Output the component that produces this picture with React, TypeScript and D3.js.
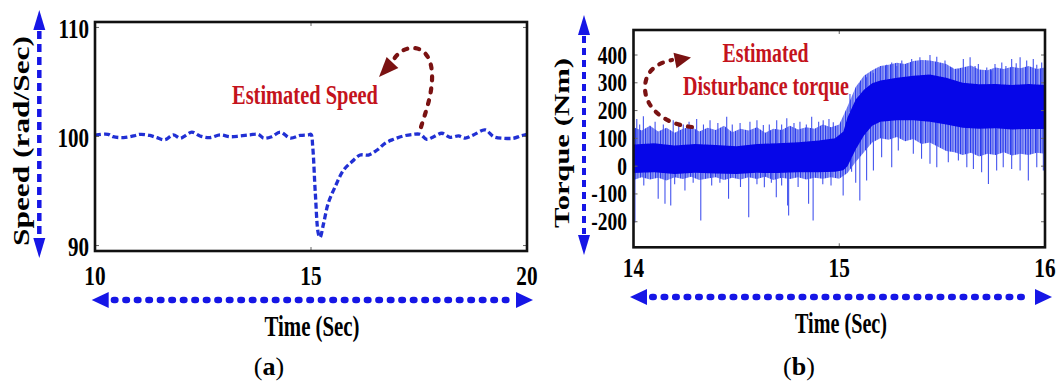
import React from 'react';
import * as d3 from 'd3';

// ---------- Panel (a): estimated speed ----------
const speedTime = [10.0, 10.04, 10.3, 10.42, 10.66, 10.89, 11.04, 11.27, 11.43, 11.62, 11.81, 11.97, 12.08, 12.24, 12.43, 12.66, 12.9, 13.13, 13.36, 13.59, 13.78, 13.9, 14.09, 14.29, 14.52, 14.75, 14.94, 15.0, 15.04, 15.1, 15.17, 15.21, 15.29, 15.4, 15.56, 15.75, 15.95, 16.14, 16.33, 16.53, 16.72, 16.91, 17.14, 17.37, 17.53, 17.68, 17.84, 18.03, 18.22, 18.42, 18.57, 18.76, 19.03, 19.23, 19.46, 19.69, 19.85, 20.0];
const speedValue = [100.1, 100.14, 100.2, 99.98, 99.9, 100.05, 100.2, 100.1, 99.9, 99.7, 100.15, 99.85, 100.05, 100.4, 100.05, 99.9, 100.15, 99.98, 100.05, 100.15, 100.2, 99.85, 99.98, 100.4, 99.85, 100.1, 100.15, 100.2, 99.05, 94.8, 91.1, 90.75, 92.0, 93.9, 95.4, 96.9, 97.7, 98.3, 98.3, 98.76, 99.4, 99.74, 100.05, 100.2, 100.2, 99.74, 99.98, 100.3, 99.93, 100.05, 99.85, 100.14, 100.6, 99.98, 99.84, 99.84, 100.05, 100.2];
const speedTicks = [110, 100, 90];
const speedTimeTicks = [10, 15, 20];

// ---------- Panel (b): estimated disturbance torque ----------
// dense core of the noisy signal
const torqueCoreTime = [14.0, 14.1, 14.2, 14.3, 14.4, 14.5, 14.6, 14.7, 14.8, 14.9, 14.98, 15.02, 15.04, 15.08, 15.12, 15.16, 15.2, 15.28, 15.36, 15.44, 15.52, 15.6, 15.68, 15.76, 15.84, 15.92, 16.0];
const torqueCoreHigh = [78, 82, 74, 80, 76, 72, 80, 82, 86, 92, 100, 125, 175, 240, 275, 298, 308, 318, 325, 330, 318, 300, 295, 296, 292, 296, 292];
const torqueCoreLow = [-25, -22, -28, -24, -26, -28, -24, -25, -22, -22, -20, -15, 0, 60, 110, 145, 160, 165, 165, 160, 150, 138, 135, 136, 132, 134, 134];
// lighter fringe of the oscillation around the core
const torqueFringeTime = [14.0, 14.04, 14.08, 14.12, 14.16, 14.2, 14.24, 14.28, 14.32, 14.36, 14.4, 14.44, 14.48, 14.52, 14.56, 14.6, 14.64, 14.68, 14.72, 14.76, 14.8, 14.84, 14.88, 14.92, 14.96, 15.0, 15.04, 15.08, 15.12, 15.16, 15.2, 15.24, 15.28, 15.32, 15.36, 15.4, 15.44, 15.48, 15.52, 15.56, 15.6, 15.64, 15.68, 15.72, 15.76, 15.8, 15.84, 15.88, 15.92, 15.96, 16.0];
const torqueFringeHigh = [140, 128, 145, 125, 138, 120, 135, 142, 125, 138, 130, 145, 122, 135, 128, 140, 120, 135, 130, 145, 132, 140, 135, 150, 140, 150, 215, 285, 325, 345, 360, 365, 372, 368, 378, 382, 380, 375, 368, 350, 355, 362, 348, 345, 355, 350, 358, 352, 360, 350, 355];
const torqueFringeLow = [-50, -40, -48, -42, -52, -40, -46, -38, -50, -44, -40, -50, -42, -48, -40, -46, -38, -50, -42, -46, -40, -48, -42, -45, -40, -45, -25, 15, 50, 85, 100, 95, 105, 90, 98, 80, 85, 70, 55, 50, 40, 48, 35, 45, 40, 50, 38, 45, 40, 48, 45];

const upperSpikeTime = [14.016, 14.03, 14.048, 14.08, 14.105, 14.145, 14.193, 14.22, 14.242, 14.27, 14.307, 14.34, 14.372, 14.41, 14.453, 14.48, 14.518, 14.566, 14.6, 14.631, 14.66, 14.696, 14.72, 14.745, 14.78, 14.809, 14.84, 14.866, 14.9, 14.922, 14.95, 14.971,
  15.052, 15.1, 15.133, 15.166, 15.198, 15.23, 15.255, 15.28, 15.304, 15.33, 15.352, 15.392, 15.42, 15.441, 15.474, 15.49, 15.514, 15.547, 15.58, 15.603, 15.636, 15.66, 15.676, 15.717, 15.74, 15.757, 15.79, 15.81, 15.838, 15.86, 15.879, 15.911, 15.943, 15.96, 15.984];
const upperSpikeValue = [170, 150, 180, 145, 160, 150, 165, 145, 150, 160, 170, 150, 165, 155, 178, 150, 155, 160, 165, 148, 150, 165, 150, 172, 155, 160, 150, 178, 160, 165, 170, 158,
  260, 300, 320, 335, 355, 365, 373, 360, 380, 370, 386, 392, 380, 400, 394, 370, 380, 355, 350, 386, 392, 360, 368, 355, 345, 368, 373, 360, 386, 370, 392, 380, 386, 365, 373];
const lowerSpikeTime = [14.007, 14.05, 14.12, 14.153, 14.181, 14.2, 14.25, 14.29, 14.327, 14.38, 14.42, 14.462, 14.52, 14.56, 14.6, 14.636, 14.67, 14.694, 14.72, 14.749, 14.754, 14.8, 14.851, 14.873, 14.92, 14.96, 15.019,
  15.06, 15.08, 15.1, 15.133, 15.166, 15.206, 15.255, 15.287, 15.36, 15.4, 15.441, 15.474, 15.53, 15.579, 15.62, 15.652, 15.692, 15.725, 15.765, 15.797, 15.838, 15.879, 15.919, 15.96, 15.992];
const lowerSpikeValue = [-203, -70, -117, -135, -142, -65, -88, -60, -196, -70, -60, -117, -75, -184, -65, -76, -60, -112, -70, -142, -178, -75, -135, -196, -65, -70, -106,
  -20, -60, -124, -52, -16, 32, -4, 56, 45, 27, 9, -4, 14, 20, -4, -10, -22, -64, -16, -4, -10, -16, -52, -4, -16];
const torqueTicks = [400, 300, 200, 100, 0, -100, -200];
const torqueTimeTicks = [14, 15, 16];

const FONT = '"Liberation Serif", "Times New Roman", Times, serif';
const ARROW_BLUE = '#1616e6';
const NOTE_RED = '#c4131c';
const NOTE_DARK = '#7a1212';

type LabelProps = {
  x: number; y: number; size: number; children: React.ReactNode;
  anchor?: 'start' | 'middle' | 'end'; sx?: number; fill?: string; weight?: number;
  rotate?: number; length?: number;
};

function Label({ x, y, size, children, anchor = 'middle', sx = 1, fill = '#000', weight = 700, rotate = 0, length }: LabelProps) {
  return (
    <text
      transform={`translate(${x},${y}) rotate(${rotate}) scale(${sx},1)`}
      textAnchor={anchor}
      fontSize={size}
      fontWeight={weight}
      fill={fill}
      fontFamily={FONT}
      textLength={length}
      lengthAdjust={length ? 'spacingAndGlyphs' : undefined}
    >
      {children}
    </text>
  );
}

// Double-headed dashed/dotted arrow used along the axes
function AxisArrow({ x1, y1, x2, y2, dash, width, cap, head, headW }: {
  x1: number; y1: number; x2: number; y2: number; dash: string; width: number;
  cap: 'round' | 'butt'; head: number; headW: number;
}) {
  const dx = x2 - x1, dy = y2 - y1, len = Math.hypot(dx, dy);
  const ux = dx / len, uy = dy / len, px = -uy, py = ux;
  const a = [x1 + ux * head, y1 + uy * head];
  const b = [x2 - ux * head, y2 - uy * head];
  const tri = (tx: number, ty: number, bx: number, by: number) =>
    `${tx},${ty} ${bx + px * headW / 2},${by + py * headW / 2} ${bx - px * headW / 2},${by - py * headW / 2}`;
  const pad = cap === 'round' ? width * 0.8 : 1;
  return (
    <g>
      <line x1={a[0] + ux * pad} y1={a[1] + uy * pad} x2={b[0] - ux * pad} y2={b[1] - uy * pad}
        stroke={ARROW_BLUE} strokeWidth={width} strokeDasharray={dash} strokeLinecap={cap} />
      <polygon points={tri(x1, y1, a[0], a[1])} fill={ARROW_BLUE} />
      <polygon points={tri(x2, y2, b[0], b[1])} fill={ARROW_BLUE} />
    </g>
  );
}

// Curved dashed callout arrow
function CurvedArrow({ d, tip, base }: { d: string; tip: [number, number]; base: [number, number] }) {
  const dx = tip[0] - base[0], dy = tip[1] - base[1], len = Math.hypot(dx, dy);
  const px = -dy / len, py = dx / len, hw = 8;
  const pts = `${tip[0]},${tip[1]} ${base[0] + px * hw},${base[1] + py * hw} ${base[0] - px * hw},${base[1] - py * hw}`;
  return (
    <g>
      <path d={d} fill="none" stroke={NOTE_DARK} strokeWidth={4.2} strokeDasharray="4 8" strokeLinecap="round" />
      <polygon points={pts} fill={NOTE_DARK} />
    </g>
  );
}

function BoxTicks({ x0, x1, y0, y1, xs, ys }: { x0: number; x1: number; y0: number; y1: number; xs: number[]; ys: number[] }) {
  const t = 4;
  return (
    <g stroke="#666" strokeWidth={1}>
      {xs.map((x, i) => (
        <g key={'x' + i}>
          <line x1={x} x2={x} y1={y0} y2={y0 + t} />
          <line x1={x} x2={x} y1={y1} y2={y1 - t} />
        </g>
      ))}
      {ys.map((y, i) => (
        <g key={'y' + i}>
          <line x1={x0} x2={x0 + t} y1={y} y2={y} />
          <line x1={x1} x2={x1 - t} y1={y} y2={y} />
        </g>
      ))}
    </g>
  );
}

function SpeedPanel() {
  const x = d3.scaleLinear().domain([10, 20]).range([95, 527]);
  const y = d3.scaleLinear().domain([89.5, 110.5]).range([251, 22]);
  const rows = speedTime.map((t, i) => ({ t, v: speedValue[i] }));
  const line = d3.line<{ t: number; v: number }>()
    .x(d => x(d.t)).y(d => y(d.v)).curve(d3.curveCatmullRom.alpha(0.5));
  const [x0, x1] = x.range();
  const [yb, yt] = y.range();
  return (
    <g>
      <defs>
        <clipPath id="speedClip"><rect x={x0} y={yt} width={x1 - x0} height={yb - yt} /></clipPath>
      </defs>
      <path d={line(rows) ?? ''} fill="none" stroke="#2130d4" strokeWidth={3.3} strokeDasharray="6 3"
        clipPath="url(#speedClip)" />
      <BoxTicks x0={x0} x1={x1} y0={yt} y1={yb} xs={speedTimeTicks.map(x)} ys={speedTicks.map(y)} />
      <rect x={x0} y={yt} width={x1 - x0} height={yb - yt} fill="none" stroke="#111" strokeWidth={2.6} />
      {speedTicks.map(v => (
        <Label key={v} x={89} y={y(v) + 10.5} size={27} anchor="end" sx={0.78}>{v}</Label>
      ))}
      {speedTimeTicks.map(t => (
        <Label key={t} x={x(t)} y={285} size={28} sx={0.76}>{t}</Label>
      ))}
      <Label x={312} y={336} size={30} length={95}>Time (Sec)</Label>
      <Label x={29} y={141} size={23.5} rotate={-90} length={210}>Speed (rad/Sec)</Label>
      <Label x={305} y={104} size={28} fill={NOTE_RED} length={146}>Estimated Speed</Label>
      <CurvedArrow
        d="M 421 127 C 426 111, 433 92, 432 73 C 431 56, 423 48, 413 48 C 404 48, 398 53, 394 59"
        tip={[379, 77]} base={[392.5, 62.5]} />
      <AxisArrow x1={91.7} y1={300} x2={533} y2={300} dash="1.5 10" width={6.5} cap="round" head={17} headW={16} />
      <AxisArrow x1={39.3} y1={10} x2={39.3} y2={258} dash="8 5" width={4.5} cap="butt" head={20} headW={12} />
      <text x={269} y={375} textAnchor="middle" fontSize={26} fontFamily={FONT}>
        <tspan fontWeight={400}>(</tspan><tspan fontWeight={700}>a</tspan><tspan fontWeight={400}>)</tspan>
      </text>
    </g>
  );
}

function TorquePanel() {
  const x = d3.scaleLinear().domain([14, 16]).range([633.5, 1045]);
  const y = d3.scaleLinear().domain([-292, 490]).range([247.3, 30]);
  const core = torqueCoreTime.map((t, i) => ({ t, lo: torqueCoreLow[i], hi: torqueCoreHigh[i] }));
  const fringe = torqueFringeTime.map((t, i) => ({ t, lo: torqueFringeLow[i], hi: torqueFringeHigh[i] }));
  const coreHighAt = d3.scaleLinear().domain(torqueCoreTime).range(torqueCoreHigh);
  const coreLowAt = d3.scaleLinear().domain(torqueCoreTime).range(torqueCoreLow);
  type Row = { t: number; lo: number; hi: number };
  const band = d3.area<Row>().x(d => x(d.t)).y0(d => y(d.lo)).y1(d => y(d.hi));
  const [x0, x1] = x.range();
  const [yb, yt] = y.range();
  return (
    <g>
      <defs>
        <clipPath id="torqueClip"><rect x={x0} y={yt} width={x1 - x0} height={yb - yt} /></clipPath>
        <pattern id="torqueHatch" width={5} height={7} patternUnits="userSpaceOnUse">
          <rect width={5} height={7} fill="#9aa3f5" />
          <rect x={0} width={1.2} height={7} fill="#2c3cee" />
          <rect x={2.4} width={1} height={7} fill="#4252ef" />
        </pattern>
      </defs>
      <g clipPath="url(#torqueClip)">
        <path d={band(fringe) ?? ''} fill="url(#torqueHatch)" />
        <g stroke="#4454ee" strokeWidth={1.1}>
          {upperSpikeTime.map((t, i) => (
            <line key={'u' + i} x1={x(t)} x2={x(t)} y1={y(coreHighAt(t))} y2={y(upperSpikeValue[i])} />
          ))}
          {lowerSpikeTime.map((t, i) => (
            <line key={'l' + i} x1={x(t)} x2={x(t)} y1={y(coreLowAt(t))} y2={y(lowerSpikeValue[i])} />
          ))}
        </g>
        <path d={band(core) ?? ''} fill="#0606e8" />
      </g>
      <BoxTicks x0={x0} x1={x1} y0={yt} y1={yb} xs={torqueTimeTicks.map(x)} ys={torqueTicks.map(y)} />
      <rect x={x0} y={yt} width={x1 - x0} height={yb - yt} fill="none" stroke="#111" strokeWidth={2.6} />
      {torqueTicks.map(v => (
        <Label key={v} x={627} y={y(v) + 8.5} size={25} anchor="end" sx={0.78}>{v < 0 ? `-${-v}` : String(v)}</Label>
      ))}
      {torqueTimeTicks.map(t => (
        <Label key={t} x={x(t)} y={277} size={28} sx={0.76}>{t}</Label>
      ))}
      <Label x={841} y={333} size={30} length={92}>Time (Sec)</Label>
      <Label x={569} y={143} size={22} rotate={-90} length={170}>Torque (Nm)</Label>
      <Label x={765.5} y={61.7} size={28} fill={NOTE_RED} length={86}>Estimated</Label>
      <Label x={766} y={95} size={28} fill={NOTE_RED} length={166}>Disturbance torque</Label>
      <CurvedArrow
        d="M 692 127 C 662 124, 645 106, 645 88 C 645 72, 656 63, 672 60"
        tip={[691, 57.5]} base={[675, 60.5]} />
      <AxisArrow x1={630} y1={297} x2={1052} y2={297} dash="1.5 10" width={6.5} cap="round" head={17} headW={16} />
      <AxisArrow x1={584} y1={15} x2={584} y2={255} dash="7 5" width={4} cap="butt" head={20} headW={12} />
      <text x={799} y={375} textAnchor="middle" fontSize={26} fontFamily={FONT}>
        <tspan fontWeight={400}>(</tspan><tspan fontWeight={700}>b</tspan><tspan fontWeight={400}>)</tspan>
      </text>
    </g>
  );
}

export default function App() {
  return (
    <svg width={1060} height={381} viewBox="0 0 1060 381"
      style={{ position: 'absolute', left: 0, top: 0, background: '#fff' }}>
      <rect width={1060} height={381} fill="#fff" />
      <SpeedPanel />
      <TorquePanel />
    </svg>
  );
}
